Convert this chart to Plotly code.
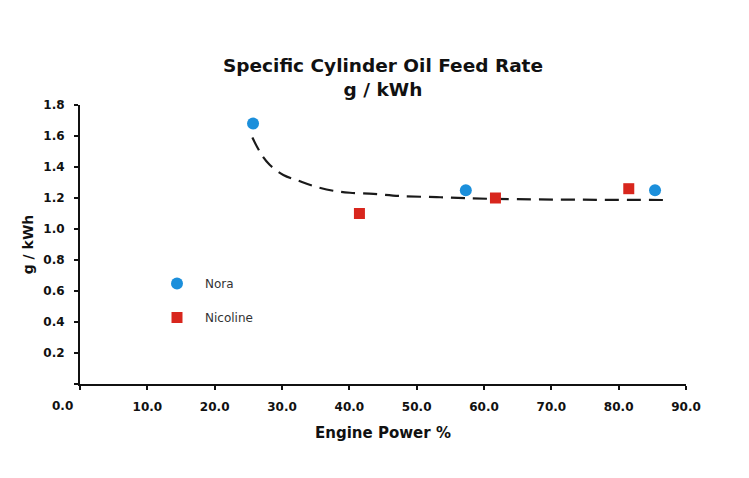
import plotly.graph_objects as go

# ---- data ----
nora_power = [25.7, 57.3, 85.4]
nora_rate = [1.68, 1.25, 1.25]
nicoline_power = [41.5, 61.7, 81.5]
nicoline_rate = [1.10, 1.20, 1.26]
trend_power = [25.6, 27.0, 28.2, 30.2, 32.4, 34.7, 37.6, 40.1, 43.6, 47.5, 53.5, 60.7, 70.6, 87.0]
trend_rate = [1.59, 1.477, 1.413, 1.348, 1.312, 1.277, 1.247, 1.234, 1.226, 1.213, 1.205, 1.195, 1.19, 1.187]
x_ticks = [0, 10, 20, 30, 40, 50, 60, 70, 80, 90]
x_tick_labels = ["", "10.0", "20.0", "30.0", "40.0", "50.0", "60.0", "70.0", "80.0", "90.0"]
x_zero_label = "0.0"
y_ticks = [0, 0.2, 0.4, 0.6, 0.8, 1.0, 1.2, 1.4, 1.6, 1.8]
y_tick_labels = ["", "0.2", "0.4", "0.6", "0.8", "1.0", "1.2", "1.4", "1.6", "1.8"]

# the page body adds an 8px margin, so the figure is laid out 8px smaller
W, H = 741, 470
ML, MR, MT, MB = 72, 63, 97, 94
PW, PH = W - ML - MR, H - MT - MB

def px_to_paper_x(px):
    return (px - ML) / PW

def py_to_paper_y(py):
    return (H - MB - py) / PH

FONT = "DejaVu Sans"

fig = go.Figure()
fig.add_trace(go.Scatter(
    x=trend_power, y=trend_rate, mode="lines", line_shape="spline",
    line=dict(color="#1a1a1a", width=2.2, dash="14px,8px"),
    showlegend=False, hoverinfo="skip"))
fig.add_trace(go.Scatter(
    x=nora_power, y=nora_rate, mode="markers", name="Nora", legendgroup="a",
    marker=dict(symbol="circle", size=12, color="#1b8fdb")))
fig.add_trace(go.Scatter(
    x=nicoline_power, y=nicoline_rate, mode="markers", name="Nicoline", legendgroup="b",
    marker=dict(symbol="square", size=11, color="#d8261d")))

fig.add_annotation(x=0, y=0, xref="x", yref="y", text="<b>%s</b>" % x_zero_label,
                   showarrow=False, xshift=-18, yshift=-22,
                   font=dict(family=FONT, size=12, color="#111"))

fig.update_layout(
    width=W, height=H,
    margin=dict(l=ML, r=MR, t=MT, b=MB),
    paper_bgcolor="white", plot_bgcolor="white",
    title=dict(text="<b>Specific Cylinder Oil Feed Rate<br>g / kWh</b>",
               x=0.5, xref="paper", xanchor="center",
               y=1 - 64 / H, yref="container", yanchor="top",
               font=dict(family=FONT, size=18.5, color="#111")),
    xaxis=dict(range=[0, 90], tickvals=x_ticks, ticktext=x_tick_labels, automargin=False,
               showgrid=False, zeroline=False, showline=True, linecolor="#111", linewidth=2,
               ticks="outside", ticklen=4, tickwidth=1.5, tickcolor="#111",
               ticklabelstandoff=7,
               tickfont=dict(family=FONT, size=12, color="#111", weight="bold"),
               title=dict(text="<b>Engine Power %</b>", standoff=14,
                          font=dict(family=FONT, size=15, color="#111"))),
    yaxis=dict(range=[0, 1.8], tickvals=y_ticks, ticktext=y_tick_labels, automargin=False,
               showgrid=False, zeroline=False, showline=True, linecolor="#111", linewidth=2,
               ticks="outside", ticklen=4, tickwidth=1.5, tickcolor="#111",
               ticklabelstandoff=7,
               tickfont=dict(family=FONT, size=12, color="#111", weight="bold"),
               title=dict(text="<b>g / kWh</b>", standoff=6,
                          font=dict(family=FONT, size=14, color="#111"))),
    legend=dict(x=px_to_paper_x(141), y=py_to_paper_y(261), xanchor="left", yanchor="top",
                bgcolor="rgba(0,0,0,0)", tracegroupgap=15, itemwidth=46,
                font=dict(family=FONT, size=12, color="#333")),
)

fig.write_html("out.html")
